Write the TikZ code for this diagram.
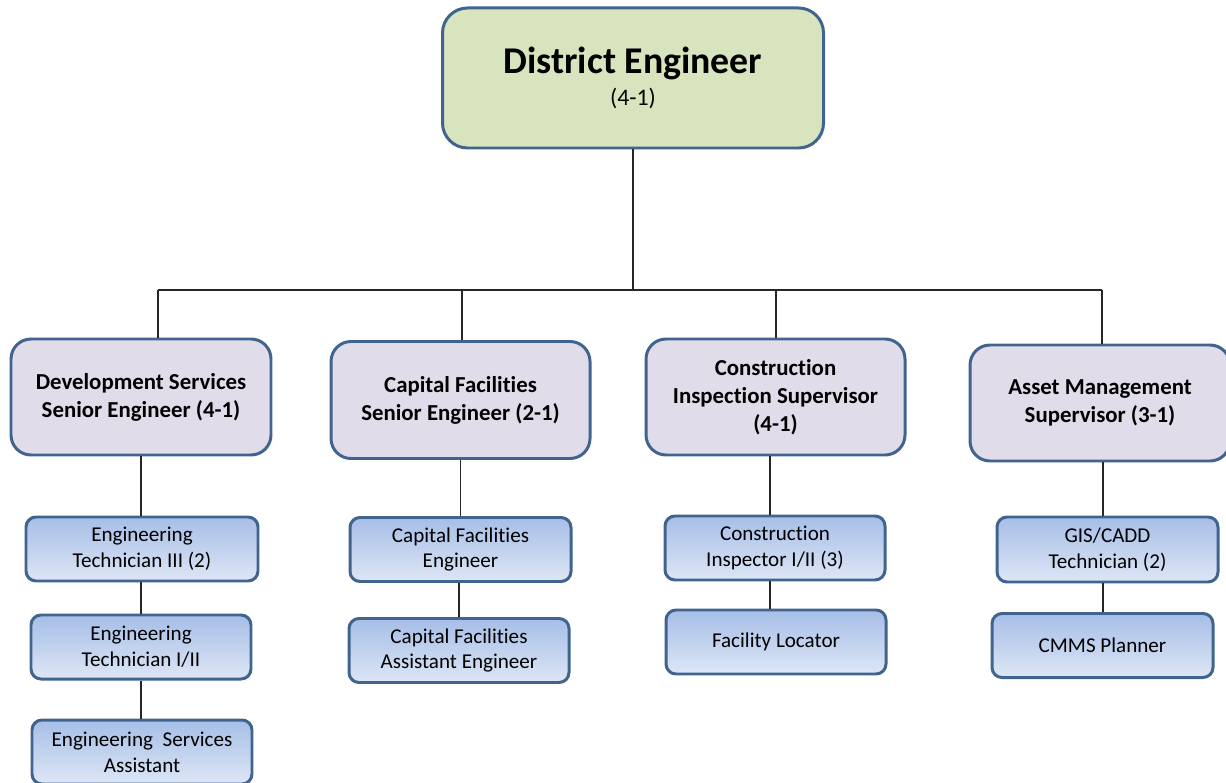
\documentclass[tikz,border=0pt]{standalone}
\usepackage{fontspec}
\setmainfont{Carlito}[Ligatures=NoCommon]
\definecolor{edgeblue}{HTML}{41648F}
\definecolor{headgreen}{HTML}{D7E4BD}
\definecolor{leadlilac}{HTML}{E1DCEA}
\definecolor{stafftop}{HTML}{A6BEE7}
\definecolor{staffbot}{HTML}{DDE6F5}
\tikzset{
  headbox/.style={draw=edgeblue, line width=1.7pt, fill=headgreen, rounded corners=0.5cm,
    minimum width=7.62cm, minimum height=2.8cm, align=center,
    font=\fontsize{13.5}{18}\selectfont},
  leadbox/.style={draw=edgeblue, line width=1.7pt, fill=leadlilac, rounded corners=0.4cm,
    minimum width=5.2cm, minimum height=2.32cm, align=center,
    font=\fontsize{13}{16}\selectfont\bfseries},
  staffbox/.style={draw=edgeblue, line width=1.7pt, top color=stafftop, bottom color=staffbot,
    rounded corners=0.2cm, minimum width=4.42cm, minimum height=1.28cm, align=center,
    font=\fontsize{12}{14.7}\selectfont},
  wire/.style={line width=0.6pt, black!85}
}
\begin{document}
\begin{tikzpicture}
                        \useasboundingbox (0,0) rectangle (24.52,15.64);

                        % Drawing box District Engineer
                        \node [headbox] (de) at (12.66,14.08) {{\fontsize{21.5}{18}\selectfont\bfseries District Engineer}\\(4-1)};%

                        % Drawing lead boxes
                        \node [leadbox] (dev) at (2.82,7.70) {Development Services\\Senior Engineer (4-1)};%
                        \node [leadbox, minimum width=5.18cm, minimum height=2.34cm] (cap) at (9.21,7.64) {Capital Facilities\\Senior Engineer (2-1)};%
                        \node [leadbox, minimum width=5.18cm] (con) at (15.51,7.70) {Construction\\Inspection Supervisor\\(4-1)};%
                        \node [leadbox] (ast) at (22.00,7.58) {Asset Management\\Supervisor (3-1)};%

                        % Drawing staff boxes
                        \node [staffbox, minimum width=4.64cm] (et3) at (2.84,4.66) {Engineering\\Technician III (2)};%
                        \node [staffbox, minimum width=4.4cm] (et12) at (2.82,2.70) {Engineering\\Technician I/II};%
                        \node [staffbox, minimum width=4.4cm] (esa) at (2.84,0.60) {Engineering\ \ Services\\Assistant};%
                        \node [staffbox] (cfe) at (9.21,4.65) {Capital Facilities\\Engineer};%
                        \node [staffbox, minimum width=4.4cm] (cfae) at (9.18,2.63) {Capital Facilities\\Assistant Engineer};%
                        \node [staffbox, minimum width=4.4cm] (ci) at (15.50,4.68) {Construction\\Inspector I/II (3)};%
                        \node [staffbox, minimum width=4.4cm] (fl) at (15.52,2.80) {Facility Locator};%
                        \node [staffbox, minimum height=1.3cm] (gis) at (22.15,4.65) {GIS/CADD\\Technician (2)};%
                        \node [staffbox] (cmms) at (22.05,2.73) {CMMS Planner};%

                        % Drawing line bar
                        \coordinate (bl) at (3.16,9.84);
                        \coordinate (br) at (22.04,9.84);
                        \coordinate (b2) at (9.24,9.84);
                        \coordinate (b3) at (15.52,9.84);
                        \draw [wire] (de.south) -- (de.south |- bl);%
                        \draw [wire] (bl) -- (br);%
                        \draw [wire] (bl) -- (bl |- dev.north);%
                        \draw [wire] (b2) -- (b2 |- cap.north);%
                        \draw [wire] (b3) -- (b3 |- con.north);%
                        \draw [wire] (br) -- (br |- ast.north);%

                        % Drawing line chains
                        \draw [wire] (dev.south) -- (dev.south |- et3.north);%
                        \draw [wire] (et3.south -| et12.north) -- (et12.north);%
                        \draw [wire] (et12.south) -- (et12.south |- esa.north);%
                        \draw [wire] (cap.south) -- (cap.south |- cfe.north);%
                        \draw [wire] (cfe.south -| cfae.north) -- (cfae.north);%
                        \coordinate (cx) at (15.40,0);
                        \draw [wire] (cx |- con.south) -- (cx |- ci.north);%
                        \draw [wire] (cx |- ci.south) -- (cx |- fl.north);%
                        \coordinate (gx) at (22.06,0);
                        \draw [wire] (gx |- ast.south) -- (gx |- gis.north);%
                        \draw [wire] (gx |- gis.south) -- (gx |- cmms.north);%
\end{tikzpicture}
\end{document}
